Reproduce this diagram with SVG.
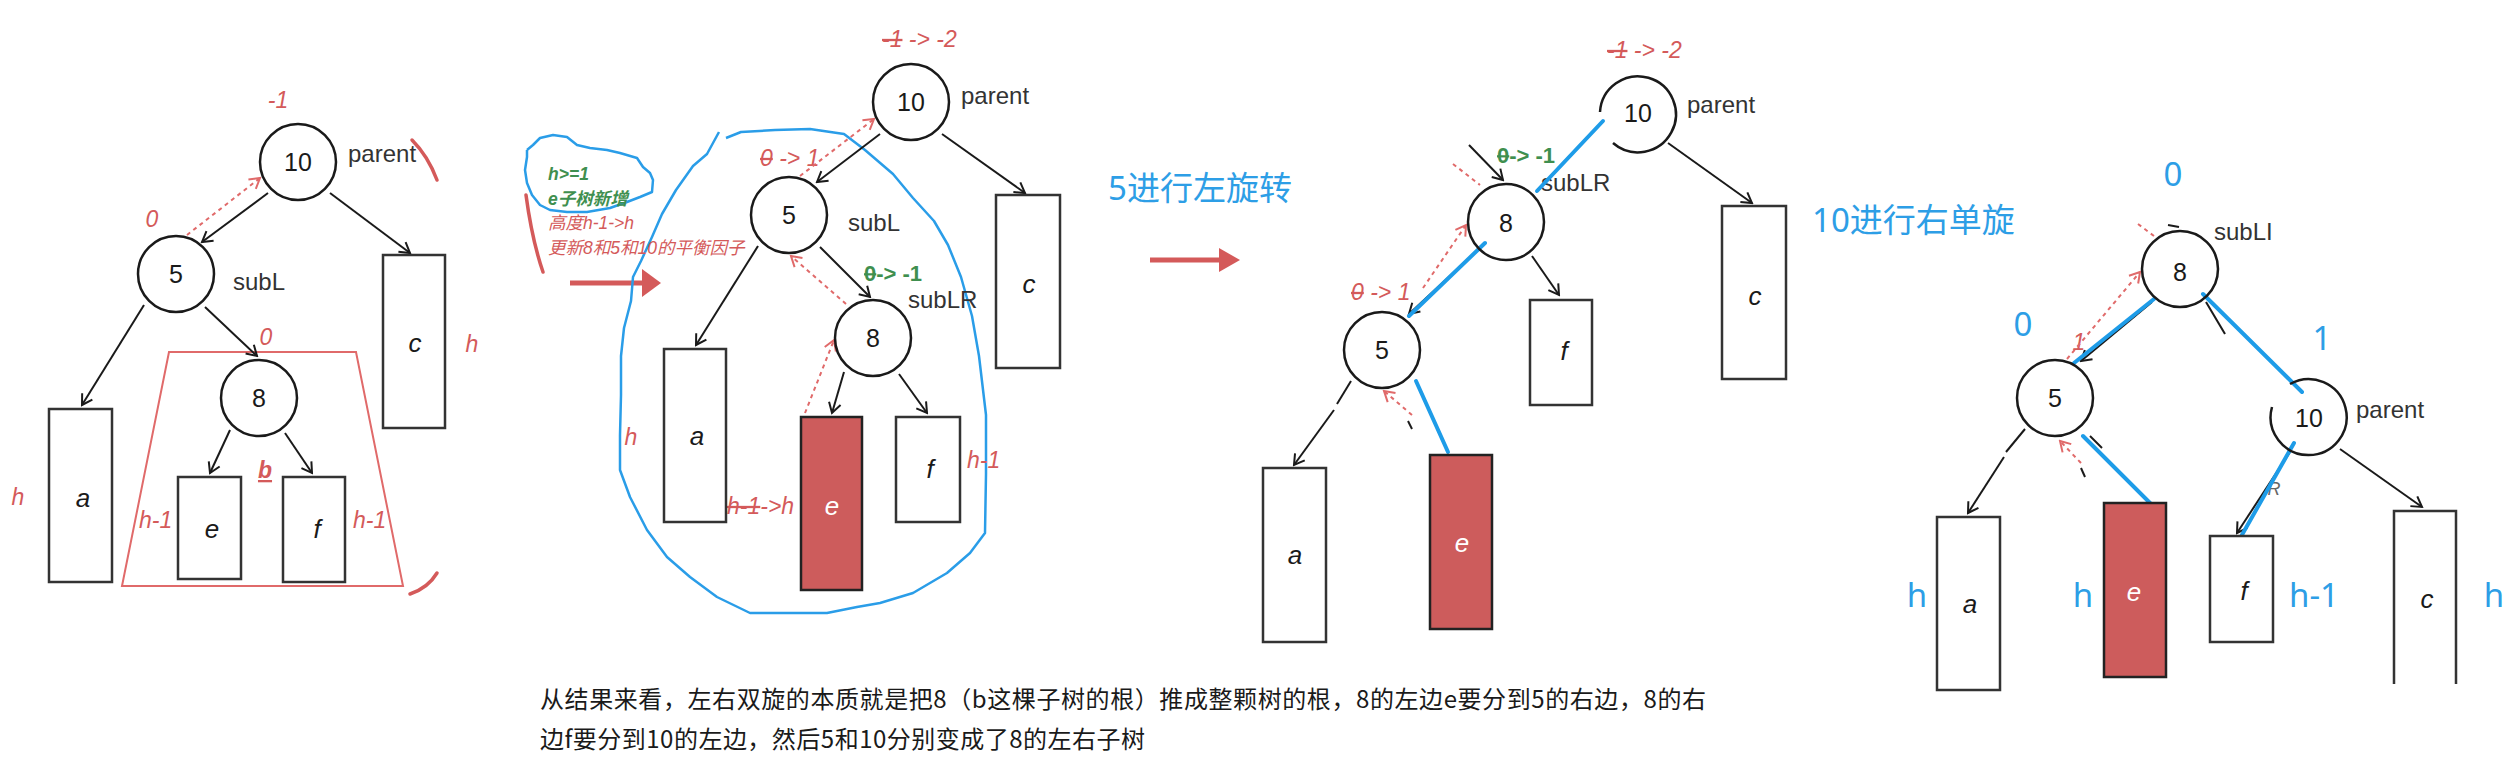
<svg xmlns="http://www.w3.org/2000/svg" width="2518" height="771" viewBox="0 0 2518 771">
<defs>
<style>
text{font-family:"Liberation Sans","Noto Sans CJK SC",sans-serif}
.c{fill:none;stroke:#1a1a1a;stroke-width:2.5}
.bx{fill:#fff;stroke:#333;stroke-width:2.5}
.bxr{fill:#cd5c5c;stroke:#222;stroke-width:2.5}
.num{font-size:25px;fill:#1a1a1a;text-anchor:middle}
.lbl{font-size:24px;fill:#333}
.it{font-size:26px;font-style:italic;fill:#1a1a1a;text-anchor:middle}
.itw{font-size:26px;font-style:italic;fill:#fff;text-anchor:middle}
.rl{font-size:23px;font-style:italic;fill:#d45a5a}
.gl{font-size:22px;font-weight:bold;fill:#3f8f4f}
.bl{font-size:33px;fill:#2d9ee6;font-family:"Noto Sans","Noto Sans CJK SC",sans-serif}
.cn{font-size:17.5px;font-style:italic;font-family:"Liberation Sans","Noto Sans CJK SC",sans-serif}
.ar{fill:none;stroke:#1a1a1a;stroke-width:2;marker-end:url(#mb)}
.ln{fill:none;stroke:#1a1a1a;stroke-width:2}
.ard{fill:none;stroke:#e06a6a;stroke-width:2;stroke-dasharray:4 4;marker-end:url(#mr)}
.rd{fill:none;stroke:#e06a6a;stroke-width:2;stroke-dasharray:4 4}
.blu{fill:none;stroke:#1e9ce8;stroke-width:4;stroke-linecap:round}
.blob{fill:none;stroke:#2a9de8;stroke-width:2.5;stroke-linejoin:round}
.red{fill:none;stroke:#d45a5a;stroke-width:3.5;stroke-linecap:round}
.body{font-size:24px;fill:#1a1a1a;font-family:"Noto Sans CJK SC",sans-serif}
</style>
<marker id="mb" viewBox="-12 -8 14 16" refX="0" refY="0" markerWidth="14" markerHeight="16" markerUnits="userSpaceOnUse" orient="auto"><path d="M-10,-6 L0,0 L-10,6" fill="none" stroke="#1a1a1a" stroke-width="2"/></marker>
<marker id="mr" viewBox="-12 -8 14 16" refX="0" refY="0" markerWidth="14" markerHeight="16" markerUnits="userSpaceOnUse" orient="auto"><path d="M-10,-6 L0,0 L-10,6" fill="none" stroke="#e06a6a" stroke-width="2"/></marker>
</defs>
<rect width="2518" height="771" fill="#fff"/>

<!-- ============ PANEL 1 ============ -->
<g id="p1-annotations">
  <polygon points="169,352 356,352 403,586 122,586" fill="none" stroke="#e06a6a" stroke-width="2"/>
  <path class="red" d="M412,140 Q428,156 437,180"/>
  <path class="red" d="M437,573 Q428,588 410,594"/>
  <text class="rl" x="278" y="108" text-anchor="middle">-1</text>
  <text class="rl" x="152" y="227" text-anchor="middle">0</text>
  <text class="rl" x="266" y="345" text-anchor="middle" font-style="normal">0</text>
  <text class="rl" x="18" y="505" text-anchor="middle">h</text>
  <text class="rl" x="472" y="352" text-anchor="middle">h</text>
  <text class="rl" x="139" y="528">h-1</text>
  <text class="rl" x="353" y="528">h-1</text>
  <text class="rl" x="265" y="478" text-anchor="middle" font-weight="bold" text-decoration="underline">b</text>
  <text class="lbl" x="348" y="162">parent</text>
  <text class="lbl" x="233" y="290">subL</text>
</g>
<g id="p1-connectors">
  <line class="ar" x1="268" y1="193" x2="202" y2="242"/>
  <line class="ar" x1="330" y1="193" x2="410" y2="253"/>
  <line class="ar" x1="144" y1="305" x2="82" y2="405"/>
  <line class="ar" x1="205" y1="307" x2="257" y2="356"/>
  <line class="ar" x1="230" y1="430" x2="210" y2="473"/>
  <line class="ar" x1="285" y1="433" x2="312" y2="473"/>
  <line class="ard" x1="187" y1="235" x2="260" y2="178"/>
</g>
<g id="p1-n10"><circle class="c" cx="298" cy="162" r="38"/><text class="num" x="298" y="171">10</text></g>
<g id="p1-n5"><circle class="c" cx="176" cy="274" r="38"/><text class="num" x="176" y="283">5</text></g>
<g id="p1-n8"><circle class="c" cx="259" cy="398" r="38"/><text class="num" x="259" y="407">8</text></g>
<g id="p1-a"><rect class="bx" x="49" y="409" width="63" height="173"/><text class="it" x="83" y="507">a</text></g>
<g id="p1-c"><rect class="bx" x="383" y="255" width="62" height="173"/><text class="it" x="415" y="352">c</text></g>
<g id="p1-e"><rect class="bx" x="178" y="477" width="63" height="102"/><text class="it" x="212" y="538">e</text></g>
<g id="p1-f"><rect class="bx" x="283" y="477" width="62" height="105"/><text class="it" x="317" y="538">f</text></g>

<!-- arrow 1 -->
<g id="arrow1">
  <path class="red" d="M526,195 Q532,240 543,272"/>
  <line x1="570" y1="283" x2="644" y2="283" stroke="#d45a5a" stroke-width="5"/>
  <polygon points="642,269 661,283 642,297" fill="#d45a5a"/>
</g>

<!-- ============ PANEL 2 ============ -->
<g id="p2-blobs">
  <polyline class="blob" points="527,150 533,145 540,138 553,135 567,137 577,145 590,148 607,150 620,153 637,158 643,167 650,173 653,180 652,192 640,197 627,202 610,208 587,212 567,212 550,210 540,205 532,195 527,183 525,170 527,157 527,150"/>
  <polyline class="blob" points="726,138 741,132 775,130 810,129 844,134 865,150 893,174 913,198 934,221 948,245 961,277 972,316 979,356 986,415 986,474 985,533 970,553 947,573 913,593 880,603 857,607 827,613 750,613 717,597 690,577 667,557 647,530 630,497 620,470 620,435 621,395 621,356 624,328 631,301 633,277 641,261 652,237 662,214 676,190 693,166 707,154 719,132"/>
</g>
<g id="p2-annotations">
  <text class="cn" x="548" y="180" fill="#3f8f4f" font-weight="bold">h&gt;=1</text>
  <text class="cn" x="548" y="205" fill="#3f8f4f" font-weight="bold">e子树新增</text>
  <text class="cn" x="548" y="229" fill="#d45a5a">高度h-1-&gt;h</text>
  <text class="cn" x="548" y="254" fill="#d45a5a">更新8和5和10的平衡因子</text>
  <text class="rl" x="882" y="47"><tspan text-decoration="line-through">-1</tspan> -&gt; -2</text>
  <text class="rl" x="760" y="166"><tspan text-decoration="line-through">0</tspan> -&gt; 1</text>
  <text class="gl" x="864" y="281"><tspan text-decoration="line-through">0</tspan>-&gt; -1</text>
  <text class="rl" x="631" y="445" text-anchor="middle" font-size="26px">h</text>
  <text class="rl" x="967" y="468">h-1</text>
  <text class="rl" x="727" y="514"><tspan text-decoration="line-through">h-1</tspan>-&gt;h</text>
  <text class="lbl" x="961" y="104">parent</text>
  <text class="lbl" x="848" y="231">subL</text>
  <text class="lbl" x="908" y="308">subLR</text>
</g>
<g id="p2-connectors">
  <line class="ar" x1="880" y1="134" x2="817" y2="182"/>
  <line class="ar" x1="942" y1="134" x2="1025" y2="193"/>
  <line class="ar" x1="758" y1="246" x2="696" y2="345"/>
  <line class="ar" x1="820" y1="247" x2="870" y2="297"/>
  <line class="ar" x1="844" y1="372" x2="832" y2="413"/>
  <line class="ar" x1="899" y1="374" x2="927" y2="413"/>
  <line class="ard" x1="800" y1="176" x2="874" y2="119"/>
  <line class="ard" x1="846" y1="304" x2="791" y2="256"/>
  <line class="ard" x1="805" y1="413" x2="834" y2="340"/>
</g>
<g id="p2-n10"><circle class="c" cx="911" cy="102" r="38"/><text class="num" x="911" y="111">10</text></g>
<g id="p2-n5"><circle class="c" cx="789" cy="215" r="38"/><text class="num" x="789" y="224">5</text></g>
<g id="p2-n8"><circle class="c" cx="873" cy="338" r="38"/><text class="num" x="873" y="347">8</text></g>
<g id="p2-a"><rect class="bx" x="664" y="349" width="62" height="173"/><text class="it" x="697" y="445">a</text></g>
<g id="p2-c"><rect class="bx" x="996" y="195" width="64" height="173"/><text class="it" x="1029" y="293">c</text></g>
<g id="p2-e"><rect class="bxr" x="801" y="417" width="61" height="173"/><text class="itw" x="832" y="515">e</text></g>
<g id="p2-f"><rect class="bx" x="896" y="417" width="64" height="105"/><text class="it" x="930" y="478">f</text></g>

<!-- arrow 2 -->
<g id="arrow2">
  <text class="bl" x="1108" y="200">5进行左旋转</text>
  <line x1="1150" y1="260" x2="1221" y2="260" stroke="#d45a5a" stroke-width="5"/>
  <polygon points="1219,248 1240,260 1219,272" fill="#d45a5a"/>
</g>

<!-- ============ PANEL 3 ============ -->
<g id="p3-annotations">
  <text class="rl" x="1607" y="58"><tspan text-decoration="line-through">-1</tspan> -&gt; -2</text>
  <text class="gl" x="1497" y="163"><tspan text-decoration="line-through">0</tspan>-&gt; -1</text>
  <text class="rl" x="1351" y="300"><tspan text-decoration="line-through">0</tspan> -&gt; 1</text>
  <text class="lbl" x="1687" y="113">parent</text>
  <text class="lbl" x="1541" y="191" font-size="23px">subLR</text>
</g>
<g id="p3-connectors">
  <line class="ar" x1="1668" y1="143" x2="1752" y2="203"/>
  <line class="ar" x1="1469" y1="145" x2="1503" y2="180"/>
  <line class="rd" x1="1453" y1="164" x2="1480" y2="185"/>
  <line class="ard" x1="1423" y1="288" x2="1466" y2="225"/>
  <line class="ar" x1="1478" y1="250" x2="1409" y2="314"/>
  <line class="ln" x1="1351" y1="381" x2="1337" y2="404"/>
  <line class="ar" x1="1334" y1="410" x2="1294" y2="465"/>
  <line class="ard" x1="1412" y1="415" x2="1384" y2="391"/>
  <line class="ln" x1="1408" y1="421" x2="1412" y2="429"/>
  <line class="ar" x1="1532" y1="256" x2="1559" y2="295"/>
  <line class="blu" x1="1603" y1="121" x2="1537" y2="191"/>
  <line class="blu" x1="1485" y1="243" x2="1409" y2="316"/>
  <line class="blu" x1="1416" y1="381" x2="1448" y2="452"/>
</g>
<g id="p3-n10"><path class="c" d="M1613,143 A38,38 0 1 0 1600,112"/><text class="num" x="1638" y="122">10</text></g>
<g id="p3-n8"><circle class="c" cx="1506" cy="222" r="38"/><text class="num" x="1506" y="232">8</text></g>
<g id="p3-n5"><circle class="c" cx="1382" cy="350" r="38"/><text class="num" x="1382" y="359">5</text></g>
<g id="p3-a"><rect class="bx" x="1263" y="468" width="63" height="174"/><text class="it" x="1295" y="564">a</text></g>
<g id="p3-c"><rect class="bx" x="1722" y="206" width="64" height="173"/><text class="it" x="1755" y="305">c</text></g>
<g id="p3-e"><rect class="bxr" x="1430" y="455" width="62" height="174"/><text class="itw" x="1462" y="552">e</text></g>
<g id="p3-f"><rect class="bx" x="1530" y="300" width="62" height="105"/><text class="it" x="1564" y="360">f</text></g>

<!-- ============ PANEL 4 ============ -->
<g id="p4-annotations">
  <text class="bl" x="1812" y="232">10进行右单旋</text>
  <text class="bl" x="2173" y="186" text-anchor="middle">0</text>
  <text class="bl" x="2023" y="336" text-anchor="middle">0</text>
  <text class="bl" x="2322" y="350" text-anchor="middle">1</text>
  <text class="bl" x="1917" y="607" text-anchor="middle">h</text>
  <text class="bl" x="2083" y="607" text-anchor="middle">h</text>
  <text class="bl" x="2289" y="607">h-1</text>
  <text class="bl" x="2494" y="607" text-anchor="middle">h</text>
  <text class="rl" x="2079" y="350" text-anchor="middle" font-size="20px">1</text>
  <text x="2274" y="495" font-size="18px" font-style="italic" fill="#666" text-anchor="middle">R</text>
  <text class="lbl" x="2214" y="240">subLI</text>
  <text class="lbl" x="2356" y="418">parent</text>
</g>
<g id="p4-connectors">
  <line class="rd" x1="2138" y1="224" x2="2154" y2="236"/>
  <line class="ln" x1="2168" y1="225" x2="2179" y2="227"/>
  <line class="ar" x1="2152" y1="302" x2="2081" y2="361"/>
  <line class="ard" x1="2067" y1="359" x2="2140" y2="272"/>
  <line class="ln" x1="2206" y1="302" x2="2225" y2="334"/>
  <line class="ar" x1="2290" y1="452" x2="2237" y2="533"/>
  <line class="ar" x1="2340" y1="449" x2="2422" y2="507"/>
  <line class="ln" x1="2025" y1="429" x2="2006" y2="452"/>
  <line class="ar" x1="2004" y1="457" x2="1968" y2="513"/>
  <line class="ln" x1="2090" y1="436" x2="2102" y2="448"/>
  <line class="ard" x1="2081" y1="463" x2="2060" y2="441"/>
  <line class="ln" x1="2081" y1="468" x2="2085" y2="477"/>
  <line class="blu" x1="2154" y1="299" x2="2074" y2="363"/>
  <line class="blu" x1="2203" y1="294" x2="2302" y2="392"/>
  <line class="blu" x1="2294" y1="443" x2="2234" y2="549"/>
  <line class="blu" x1="2083" y1="436" x2="2156" y2="509"/>
</g>
<g id="p4-n8"><circle class="c" cx="2180" cy="269" r="38"/><text class="num" x="2180" y="281">8</text></g>
<g id="p4-n5"><circle class="c" cx="2055" cy="398" r="38"/><text class="num" x="2055" y="407">5</text></g>
<g id="p4-n10"><path class="c" d="M2290,384 A38,38 0 1 1 2272,407"/><text class="num" x="2309" y="427">10</text></g>
<g id="p4-a"><rect class="bx" x="1937" y="517" width="63" height="173"/><text class="it" x="1970" y="613">a</text></g>
<g id="p4-e"><rect class="bxr" x="2104" y="503" width="62" height="174"/><text class="itw" x="2134" y="601">e</text></g>
<g id="p4-f"><rect class="bx" x="2210" y="536" width="63" height="106"/><text class="it" x="2244" y="600">f</text></g>
<g id="p4-c"><path class="bx" d="M2394,684 V511 H2456 V684"/><text class="it" x="2427" y="608">c</text></g>

<!-- caption -->
<g id="caption">
  <text class="body" x="540" y="708" textLength="1166" lengthAdjust="spacing">从结果来看，左右双旋的本质就是把8（b这棵子树的根）推成整颗树的根，8的左边e要分到5的右边，8的右</text>
  <text class="body" x="540" y="748" textLength="605" lengthAdjust="spacing">边f要分到10的左边，然后5和10分别变成了8的左右子树</text>
</g>
</svg>
